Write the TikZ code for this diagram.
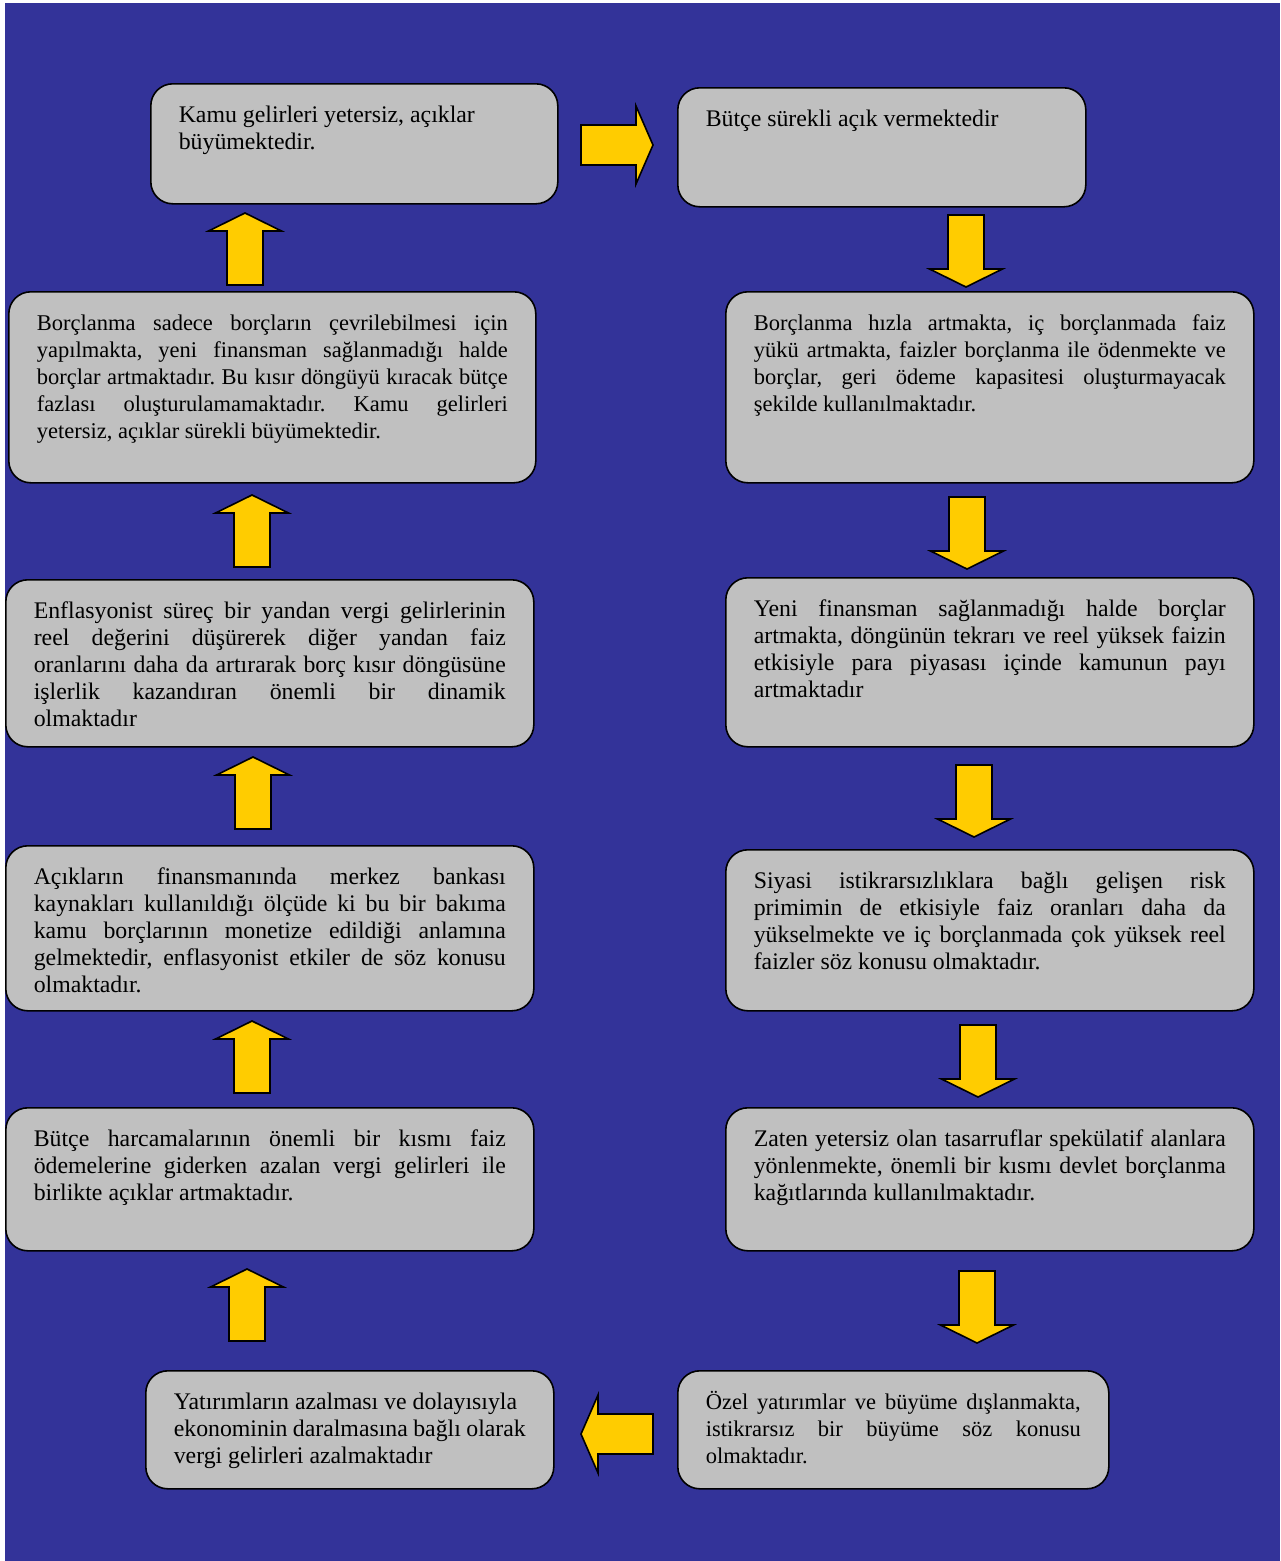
\documentclass[tikz,border=0pt]{standalone}
\usepackage{fontspec}
\setmainfont{Liberation Serif}
\frenchspacing
\definecolor{bgblue}{RGB}{51,51,153}
\definecolor{boxgray}{RGB}{192,192,192}
\definecolor{arrgold}{RGB}{255,204,0}
\newcommand{\J}[1]{\makebox[\linewidth][s]{#1}\\}
\newcommand{\boxtext}[4][23.8]{\parbox[t][#2][t]{#3}{\fontsize{#1}{27}\selectfont\frenchspacing\rule{0pt}{19pt}#4}}
\tikzset{
  flowbox/.style={draw=black, line width=1.6pt, fill=boxgray, rounded corners=22pt,
    inner xsep=28pt, inner ysep=20pt, anchor=north west, text=black},
  barrow/.style={draw=black, line width=1.6pt, fill=arrgold, line join=miter},
  uparr/.pic={\draw[barrow] (-18,36) -- (-18,-18) -- (-36.5,-18) -- (0,-36) -- (36.5,-18) -- (18,-18) -- (18,36) -- cycle;},
  dnarr/.pic={\draw[barrow] (-18,-36) -- (-18,18) -- (-36.5,18) -- (0,36) -- (36.5,18) -- (18,18) -- (18,-36) -- cycle;},
  rtarr/.pic={\draw[barrow] (-36,-20) -- (19,-20) -- (19,-39) -- (36,0) -- (19,39) -- (19,20) -- (-36,20) -- cycle;},
  ltarr/.pic={\draw[barrow] (36,-20) -- (-19,-20) -- (-19,-39) -- (-36,0) -- (-19,39) -- (-19,20) -- (36,20) -- cycle;},
}
\begin{document}
\begin{tikzpicture}[x=1pt,y=-1pt]
\useasboundingbox (0,0) rectangle (1280,1561);
\fill[white] (0,0) rectangle (1280,1561);
\fill[bgblue] (5,3) rectangle (1280,1561);

% left column
\node[flowbox] (l1) at (150,83) {\boxtext{80pt}{351pt}{\raggedright Kamu gelirleri yetersiz, açıklar\\büyümektedir.}};
\node[flowbox] (l2) at (8,291) {\boxtext[22.5]{151pt}{471pt}{\J{Borçlanma sadece borçların çevrilebilmesi için}\J{yapılmakta, yeni finansman sağlanmadığı halde}\J{borçlar artmaktadır. Bu kısır döngüyü kıracak bütçe}\J{fazlası oluşturulamamaktadır. Kamu gelirleri}yetersiz, açıklar sürekli büyümektedir.}};
\node[flowbox] (l3) at (5,579) {\boxtext{127pt}{472pt}{\J{Enflasyonist süreç bir yandan vergi gelirlerinin}\J{reel değerini düşürerek diğer yandan faiz}\J{oranlarını daha da artırarak borç kısır döngüsüne}\J{işlerlik kazandıran önemli bir dinamik}olmaktadır}};
\node[flowbox] (l4) at (5,845) {\boxtext{125pt}{472pt}{\J{Açıkların finansmanında merkez bankası}\J{kaynakları kullanıldığı ölçüde ki bu bir bakıma}\J{kamu borçlarının monetize edildiği anlamına}\J{gelmektedir, enflasyonist etkiler de söz konusu}olmaktadır.}};
\node[flowbox] (l5) at (5,1107) {\boxtext{103pt}{472pt}{\J{Bütçe harcamalarının önemli bir kısmı faiz}\J{ödemelerine giderken azalan vergi gelirleri ile}birlikte açıklar artmaktadır.}};
\node[flowbox] (l6) at (145,1370) {\boxtext{78pt}{352pt}{\raggedright Yatırımların azalması ve dolayısıyla\\ekonominin daralmasına bağlı olarak\\vergi gelirleri azalmaktadır}};

% right column
\node[flowbox] (r1) at (677,87) {\boxtext{79pt}{352pt}{\raggedright Bütçe sürekli açık vermektedir}};
\node[flowbox] (r2) at (725,291) {\boxtext[22.5]{151pt}{472pt}{\J{Borçlanma hızla artmakta, iç borçlanmada faiz}\J{yükü artmakta, faizler borçlanma ile ödenmekte ve}\J{borçlar, geri ödeme kapasitesi oluşturmayacak}şekilde kullanılmaktadır.}};
\node[flowbox] (r3) at (725,577) {\boxtext{129pt}{472pt}{\J{Yeni finansman sağlanmadığı halde borçlar}\J{artmakta, döngünün tekrarı ve reel yüksek faizin}\J{etkisiyle para piyasası içinde kamunun payı}artmaktadır}};
\node[flowbox] (r4) at (725,849) {\boxtext{121pt}{472pt}{\J{Siyasi istikrarsızlıklara bağlı gelişen risk}\J{primimin de etkisiyle faiz oranları daha da}\J{yükselmekte ve iç borçlanmada çok yüksek reel}faizler söz konusu olmaktadır.}};
\node[flowbox] (r5) at (725,1107) {\boxtext{103pt}{472pt}{\J{Zaten yetersiz olan tasarruflar spekülatif alanlara}\J{yönlenmekte, önemli bir kısmı devlet borçlanma}kağıtlarında kullanılmaktadır.}};
\node[flowbox] (r6) at (677,1370) {\boxtext[22.5]{78pt}{375pt}{\J{Özel yatırımlar ve büyüme dışlanmakta,}\J{istikrarsız bir büyüme söz konusu}olmaktadır.}};

% block arrows
\pic (a1) at (617,145) {rtarr};
\pic (a2) at (966,251) {dnarr};
\pic (a3) at (967,533) {dnarr};
\pic (a4) at (974,801) {dnarr};
\pic (a5) at (978,1061) {dnarr};
\pic (a6) at (977,1307) {dnarr};
\pic (a7) at (617,1434) {ltarr};
\pic (a8) at (247,1305) {uparr};
\pic (a9) at (252,1057) {uparr};
\pic (a10) at (253,793) {uparr};
\pic (a11) at (252,531) {uparr};
\pic (a12) at (245,249) {uparr};
\end{tikzpicture}
\end{document}
